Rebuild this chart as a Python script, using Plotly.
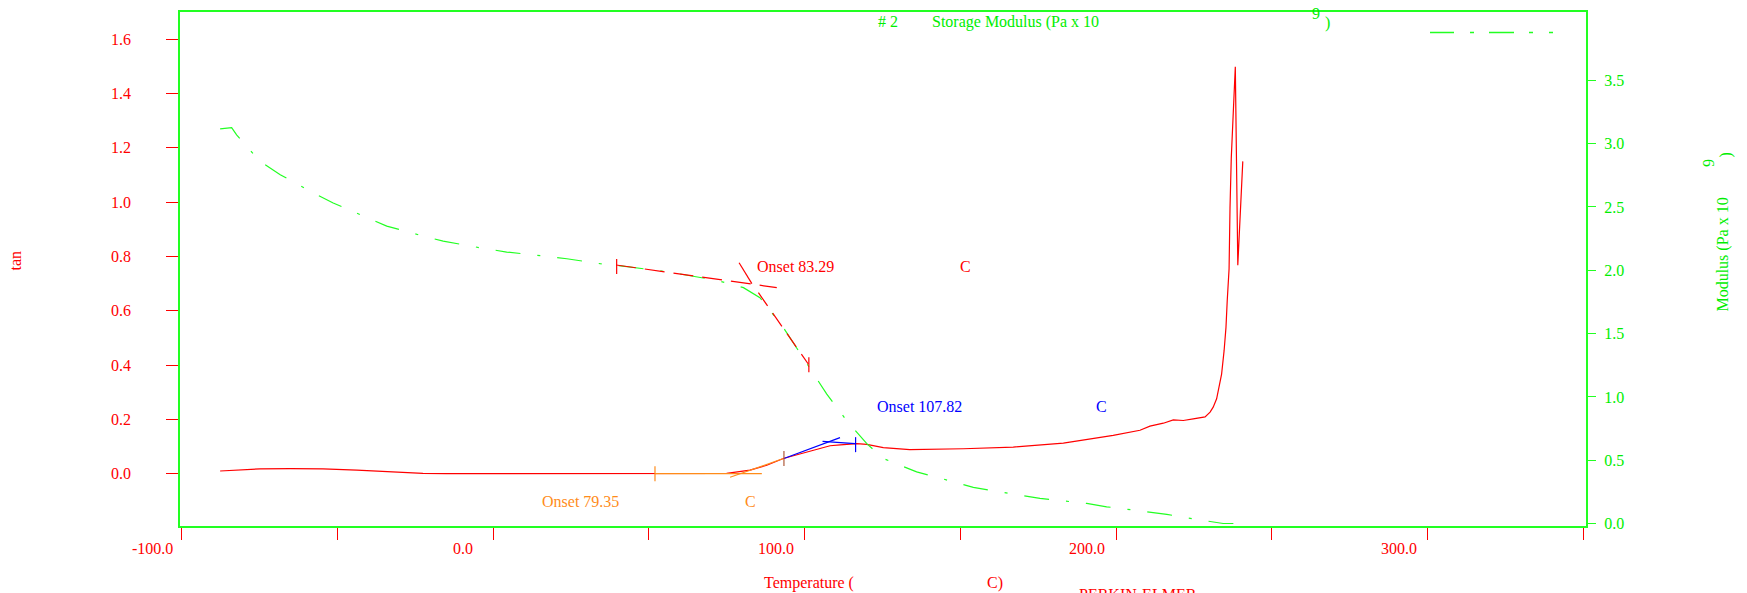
import plotly.graph_objects as go

# ---- data -------------------------------------------------------------
# tan delta vs temperature
tan_temp = [-87.6, -84.0, -80.0, -74.8, -65.0, -54.6, -43.7, -33.0, -22.5, -15.0,
            0.0, 20.0, 40.0, 60.0, 75.0, 82.5, 87.9, 93.2, 100.7, 108.2,
            111.5, 116.8, 120.0, 125.3, 133.8, 146.7, 151.0, 167.0, 183.1, 199.1,
            207.7, 210.9, 215.2, 218.4, 221.6, 224.8, 227.0, 228.6, 230.2, 231.2,
            232.3, 233.1, 233.9, 234.7, 235.3, 235.7, 236.3, 236.6, 237.0, 237.7,
            238.3, 239.1, 240.7]
tan_vals = [0.010, 0.013, 0.015, 0.018, 0.019, 0.018, 0.013, 0.006, 0.001, 0.0,
            0.0, 0.0, 0.0, 0.0, 0.001, 0.013, 0.031, 0.056, 0.080, 0.103,
            0.106, 0.111, 0.108, 0.096, 0.089, 0.091, 0.092, 0.098, 0.113, 0.141,
            0.160, 0.175, 0.186, 0.198, 0.196, 0.202, 0.206, 0.209, 0.227, 0.245,
            0.276, 0.318, 0.367, 0.453, 0.538, 0.636, 0.755, 0.978, 1.161, 1.344,
            1.498, 0.768, 1.150]

# storage modulus (Pa x 10^9) vs temperature
mod_temp = [-87.6, -83.9, -82.3, -74.8, -68.3, -57.7, -51.3, -40.5, -34.1, -22.4,
            -16.0, -4.2, 4.4, 16.1, 23.7, 34.4, 39.7, 55.8, 71.8, 80.4,
            85.7, 93.2, 100.7, 107.1, 113.5, 116.8, 120.0, 125.3, 136.0, 146.7,
            154.2, 167.0, 175.6, 190.6, 197.0, 209.9, 216.3, 227.0, 234.4, 239.8]
mod_vals = [3.117, 3.127, 3.070, 2.860, 2.755, 2.611, 2.532, 2.414, 2.349, 2.270,
            2.230, 2.178, 2.144, 2.113, 2.091, 2.052, 2.039, 1.989, 1.921, 1.863,
            1.784, 1.548, 1.260, 1.024, 0.814, 0.722, 0.631, 0.513, 0.408, 0.337,
            0.285, 0.232, 0.198, 0.159, 0.132, 0.093, 0.072, 0.028, 0.0, 0.0]

# onset analyses
onset_tan = 79.35        # tan delta onset (orange)
onset_peak = 107.82      # tan delta onset (blue)
onset_mod = 83.29        # storage modulus onset (red)

x_ticks = [-100, -50, 0, 50, 100, 150, 200, 250, 300, 350]
x_labels = {-100: "-100.0", 0: "0.0", 100: "100.0", 200: "200.0", 300: "300.0"}
tan_ticks = [0.0, 0.2, 0.4, 0.6, 0.8, 1.0, 1.2, 1.4, 1.6]
mod_ticks = [0.0, 0.5, 1.0, 1.5, 2.0, 2.5, 3.0, 3.5]

# ---- styling ------------------------------------------------------------
RED = "#ff0000"
GREEN = "#00ee00"
LINE_GREEN = "#22ff22"
ORANGE = "#ff8c1a"
BLUE = "#0000ff"
BROWN = "#b05a3a"
FONT = "Liberation Serif"

W, H = 1747, 593
L, R, T, B = 180, 1586, 10, 526


def paper_x(p):
    return (p - L) / (R - L)


def paper_y(p):
    return (B - p) / (B - T)


def line_through(x0, y0, x1, y1, xa, xb):
    s = (y1 - y0) / (x1 - x0)
    return [xa, xb], [y0 + s * (xa - x0), y0 + s * (xb - x0)]


fig = go.Figure()

# main curves
fig.add_trace(go.Scatter(x=mod_temp, y=mod_vals, yaxis="y2", mode="lines",
                         line=dict(color=LINE_GREEN, width=1.2, dash="25px,17px,3px,17px")))
fig.add_trace(go.Scatter(x=tan_temp, y=tan_vals, mode="lines",
                         line=dict(color=RED, width=1.2)))

# storage modulus onset tangents (red)
mx, my = line_through(39.5, 2.042, 91.1, 1.863, 39.5, 91.1)
fig.add_trace(go.Scatter(x=mx, y=my, yaxis="y2", mode="lines",
                         line=dict(color=RED, width=1.2, dash="20px,9px")))
up_at_onset = 2.042 + (1.863 - 2.042) / (91.1 - 39.5) * (onset_mod - 39.5)
sx, sy = line_through(onset_mod, up_at_onset, 101.2, 1.260, 85.2, 101.2)
fig.add_trace(go.Scatter(x=sx, y=sy, yaxis="y2", mode="lines",
                         line=dict(color=RED, width=1.2, dash="16px,9px")))
fig.add_trace(go.Scatter(x=[79.0, 83.1], y=[2.060, 1.895], yaxis="y2", mode="lines",
                         line=dict(color=RED, width=1.2)))

# tan delta onset (orange): baseline and rising tangent
fig.add_trace(go.Scatter(x=[52.0, 86.3], y=[0.0, 0.0], mode="lines",
                         line=dict(color=ORANGE, width=1.2)))
ox, oy = line_through(onset_tan, 0.0, 93.2, 0.056, 76.1, 93.2)
fig.add_trace(go.Scatter(x=ox, y=oy, mode="lines", line=dict(color=ORANGE, width=1.2)))

# tan delta onset (blue): rising tangent and peak tangent
bx, by = line_through(93.4, 0.056, 111.4, 0.133, 93.4, 111.4)
fig.add_trace(go.Scatter(x=bx, y=by, mode="lines", line=dict(color=BLUE, width=1.2)))
rise_at_onset = 0.056 + (0.133 - 0.056) / (111.4 - 93.4) * (onset_peak - 93.4)
px_, py_ = line_through(onset_peak, rise_at_onset, 116.2, 0.111, 105.8, 116.2)
fig.add_trace(go.Scatter(x=px_, y=py_, mode="lines", line=dict(color=BLUE, width=1.2)))

# short vertical cursor marks
cursors = [("y", 52.0, 0.0, ORANGE), ("y", 93.4, 0.056, BROWN), ("y", 116.4, 0.107, BLUE),
           ("y2", 39.7, 2.03, RED), ("y2", 101.4, 1.253, RED)]
shapes = []
for yref, cx, cy, col in cursors:
    shapes.append(dict(type="line", xref="x", yref=yref, x0=cx, x1=cx,
                       ysizemode="pixel", yanchor=cy, y0=-7.5, y1=7.5,
                       line=dict(color=col, width=1.2)))

# legend sample line for the storage modulus curve
shapes.append(dict(type="line", xref="paper", yref="paper",
                   x0=paper_x(1430), x1=paper_x(1554), y0=paper_y(30.7), y1=paper_y(30.7),
                   line=dict(color=LINE_GREEN, width=1.5,
                             dash="24px,16px,4px,15px,25px,15px,4px,16px,4px,60px")))

ann = []


def text(s, x, y, color, xanchor="left", angle=0, size=16, yanchor="middle"):
    ann.append(dict(text=s, x=paper_x(x), y=paper_y(y), xref="paper", yref="paper",
                    xanchor=xanchor, yanchor=yanchor, showarrow=False, textangle=angle,
                    font=dict(family=FONT, size=size, color=color)))


# x tick labels (right-aligned just left of their tick)
shift = {-100: -6.5, 0: -18, 100: -9, 200: -9, 300: -9}
for v, s in x_labels.items():
    ann.append(dict(text=s, x=v, y=paper_y(549), xref="x", yref="paper",
                    xanchor="right", yanchor="middle", xshift=shift[v], showarrow=False,
                    font=dict(family=FONT, size=16, color=RED)))

# axis titles
text("Temperature (", 762, 583, RED)
text("C)", 984.5, 583, RED)
text("PERKIN-ELMER", 1077, 584.5, RED, yanchor="top")
text("tan", 16, 259.5, RED, xanchor="center", angle=-90)
text("Modulus (Pa x 10", 1723, 253.5, GREEN, xanchor="center", angle=-90)
text("9", 1708.5, 162, GREEN, xanchor="center", angle=-90)
text(")", 1726, 154, GREEN, xanchor="center", angle=-90)

# legend header
text("# 2", 876, 20, GREEN)
text("Storage Modulus (Pa x 10", 930, 20, GREEN)
text("9", 1316, 11.5, GREEN, xanchor="center")
text(")", 1327.5, 21, GREEN, xanchor="center")

# onset labels
text("Onset %.2f" % onset_mod, 755, 265, RED)
text("C", 965, 265, RED, xanchor="center")
text("Onset %.2f" % onset_peak, 875, 406, BLUE)
text("C", 1101.3, 406, BLUE, xanchor="center")
text("Onset %.2f" % onset_tan, 540, 501.7, ORANGE)
text("C", 750.7, 501.7, ORANGE, xanchor="center")

fig.update_layout(
    width=W, height=H,
    margin=dict(l=L, r=W - R, t=T, b=H - B, pad=0),
    paper_bgcolor="white", plot_bgcolor="white",
    showlegend=False,
    shapes=shapes, annotations=ann,
    xaxis=dict(range=[-100.48, 350.88], tickvals=x_ticks, showticklabels=False,
               ticks="outside", ticklen=12, tickcolor=RED, tickwidth=1,
               showline=True, linecolor=LINE_GREEN, linewidth=1.5, mirror=True,
               showgrid=False, zeroline=False),
    yaxis=dict(range=[-0.1925, 1.700], tickvals=tan_ticks, tickformat=".1f",
               ticks="outside", ticklen=12, tickcolor=RED, tickwidth=1,
               tickfont=dict(family=FONT, size=16, color=RED), ticklabelstandoff=32,
               showline=True, linecolor=LINE_GREEN, linewidth=1.5, mirror=True,
               showgrid=False, zeroline=False),
    yaxis2=dict(range=[-0.0197, 4.040], tickvals=mod_ticks, tickformat=".1f",
                overlaying="y", side="right",
                ticks="outside", ticklen=9, tickcolor=LINE_GREEN, tickwidth=1,
                tickfont=dict(family=FONT, size=16, color=GREEN), ticklabelstandoff=5,
                showline=False, showgrid=False, zeroline=False),
)

fig.write_html("out.html")
